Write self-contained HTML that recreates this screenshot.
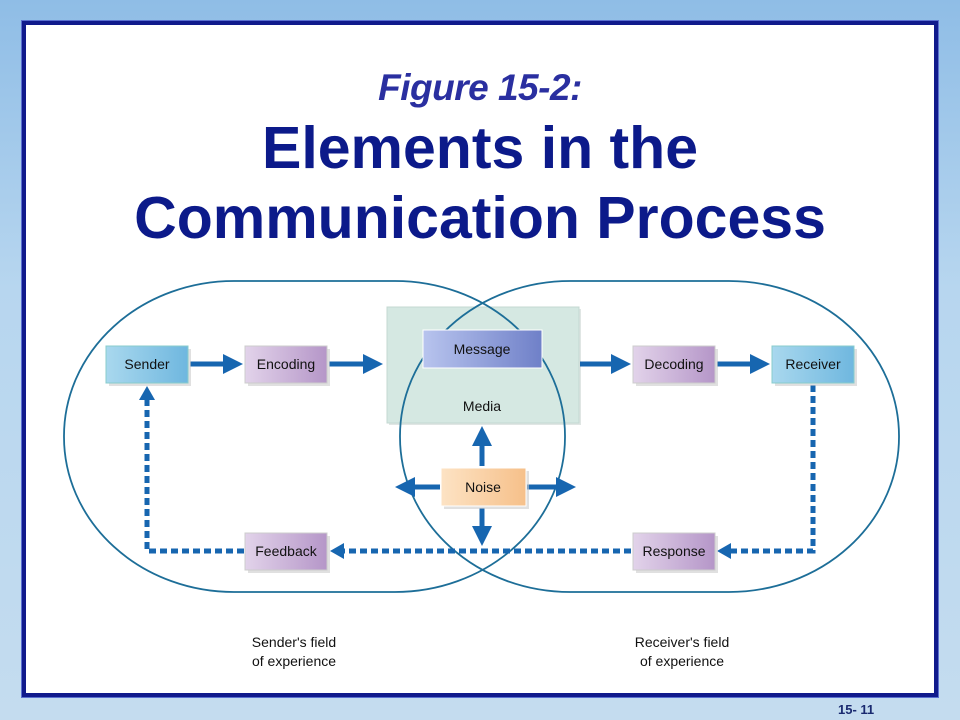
<!DOCTYPE html>
<html><head><meta charset="utf-8"><style>
body{margin:0;width:960px;height:720px;overflow:hidden;background:linear-gradient(180deg,#8fbde6 0%,#b7d6ef 40%,#c4dcef 100%);font-family:"Liberation Sans",sans-serif;position:relative}
.frame{position:absolute;left:22px;top:21px;width:908px;height:668px;border:4px solid #101a8c;background:#fff;box-shadow:0 0 0 1px #5a6fd0}
.t1{position:absolute;left:0;width:960px;text-align:center;top:67px;font-size:37px;font-style:italic;color:#2a2fa0;font-weight:bold;letter-spacing:-0.5px}
.t2{position:absolute;left:0;width:960px;text-align:center;top:113px;font-size:59px;line-height:70px;font-weight:bold;color:#0c1a8a}
.pg{position:absolute;left:838px;top:702px;font-size:13px;font-weight:bold;color:#1a2a70}
</style></head><body>
<div class="frame"></div>
<div class="t1">Figure 15-2:</div>
<div class="t2">Elements in the<br>Communication Process</div>
<svg width="960" height="720" style="position:absolute;left:0;top:0">
<defs>
<linearGradient id="gb" x1="0" x2="1"><stop offset="0" stop-color="#a9d8ee"/><stop offset="1" stop-color="#6fb7df"/></linearGradient>
<linearGradient id="gp" x1="0" x2="1"><stop offset="0" stop-color="#e2d3ea"/><stop offset="1" stop-color="#b596c8"/></linearGradient>
<linearGradient id="gm" x1="0" x2="1"><stop offset="0" stop-color="#b8c4ee"/><stop offset="1" stop-color="#6f80c8"/></linearGradient>
<linearGradient id="go" x1="0" x2="1"><stop offset="0" stop-color="#fde3c4"/><stop offset="1" stop-color="#f6c08a"/></linearGradient>
<marker id="ah" markerWidth="4" markerHeight="4" refX="2" refY="2" orient="auto" markerUnits="strokeWidth"><path d="M0,0L4,2L0,4z" fill="#1766b0"/></marker>
</defs>
<rect x="389" y="309" width="192" height="116" fill="#e0e6e4"/>
<rect x="387" y="307" width="192" height="116" fill="#d5e8e2" stroke="#c4d8d2"/>
<g fill="none" stroke="#1d6e98" stroke-width="1.8">
<rect x="64" y="281" width="501" height="311" rx="170" ry="155"/>
<rect x="400" y="281" width="499" height="311" rx="170" ry="155"/>
</g>
<g stroke="#1766b0" stroke-width="5" fill="none">
<line x1="190" y1="364" x2="233" y2="364" marker-end="url(#ah)"/>
<line x1="329" y1="364" x2="373" y2="364" marker-end="url(#ah)"/>
<line x1="580" y1="364" x2="621" y2="364" marker-end="url(#ah)"/>
<line x1="717" y1="364" x2="760" y2="364" marker-end="url(#ah)"/>
<line x1="482" y1="466" x2="482" y2="436" marker-end="url(#ah)"/>
<line x1="482" y1="508" x2="482" y2="536" marker-end="url(#ah)"/>
<line x1="440" y1="487" x2="405" y2="487" marker-end="url(#ah)"/>
<line x1="527" y1="487" x2="566" y2="487" marker-end="url(#ah)"/>
</g>
<g stroke="#1766b0" stroke-width="5" fill="none" stroke-dasharray="7,4">
<polyline points="813,385 813,551 730,551"/>
<line x1="631" y1="551" x2="344" y2="551"/>
<polyline points="244,551 147,551 147,398"/>
</g>
<g fill="#1766b0">
<path d="M717,551 L731,543 L731,559z"/>
<path d="M330,551 L344,543 L344,559z"/>
<path d="M147,386 L139,400 L155,400z"/>
</g>
<g fill="#ccc" opacity="0.6">
<rect x="109" y="349" width="82" height="37"/><rect x="248" y="349" width="82" height="37"/>
<rect x="636" y="349" width="82" height="37"/><rect x="775" y="349" width="82" height="37"/>
<rect x="248" y="536" width="82" height="37"/><rect x="636" y="536" width="82" height="37"/>
<rect x="444" y="471" width="85" height="38"/>
</g>
<g font-family="Liberation Sans,sans-serif" font-size="14" fill="#111" text-anchor="middle">
<rect x="106" y="346" width="82" height="37" fill="url(#gb)" stroke="#8cc" /><text x="147" y="369">Sender</text>
<rect x="245" y="346" width="82" height="37" fill="url(#gp)" stroke="#ccc"/><text x="286" y="369">Encoding</text>
<rect x="633" y="346" width="82" height="37" fill="url(#gp)" stroke="#ccc"/><text x="674" y="369">Decoding</text>
<rect x="772" y="346" width="82" height="37" fill="url(#gb)" stroke="#8cc"/><text x="813" y="369">Receiver</text>
<rect x="423" y="330" width="119" height="38" fill="url(#gm)" stroke="#fff"/><text x="482" y="354">Message</text>
<text x="482" y="411">Media</text>
<rect x="441" y="468" width="85" height="38" fill="url(#go)" stroke="#fff"/><text x="483" y="492">Noise</text>
<rect x="245" y="533" width="82" height="37" fill="url(#gp)" stroke="#ccc"/><text x="286" y="556">Feedback</text>
<rect x="633" y="533" width="82" height="37" fill="url(#gp)" stroke="#ccc"/><text x="674" y="556">Response</text>
<g font-size="14"><text x="294" y="647">Sender's field</text><text x="294" y="666">of experience</text>
<text x="682" y="647">Receiver's field</text><text x="682" y="666">of experience</text></g>
</g>
</svg>
<div class="pg">15- 11</div>
</body></html>
